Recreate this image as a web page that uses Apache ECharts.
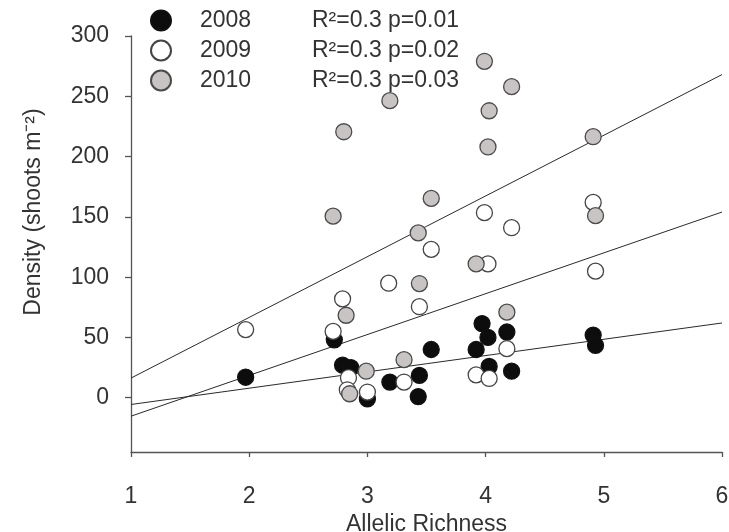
<!DOCTYPE html>
<html>
<head>
<meta charset="utf-8">
<script src="https://cdn.jsdelivr.net/npm/echarts@6/dist/echarts.min.js"></script>
<style>
html,body{margin:0;padding:0;background:#fff;}
#chart{width:729px;height:532px;}
</style>
</head>
<body>
<div id="chart"></div>
<script>
// 年份和图例右边的统计文字
var years = ['2008', '2009', '2010'];
var stats = ['R²=0.3 p=0.01', 'R²=0.3 p=0.02', 'R²=0.3 p=0.03'];

// 各年份的点 [等位基因丰富度, 密度]
var pts2008 = [[1.97,17],[2.72,48],[2.79,27],[2.86,25],[3.00,-1],[3.19,13],[3.44,18.5],[3.43,1],
  [3.54,40],[3.92,40],[3.97,61.5],[4.02,50],[4.03,26],[4.18,54.5],[4.22,22],[4.91,52],[4.93,43.5]];
var pts2009 = [[1.97,56.5],[2.71,55],[2.79,82],[2.84,16.6],[2.83,6.6],[3.00,4.7],[3.18,95],[3.31,13],
  [3.44,75.5],[3.54,123],[3.92,19],[3.99,153.5],[4.02,111],[4.03,16],[4.18,40.7],[4.22,141],[4.91,162],[4.93,105]];
var pts2010 = [[2.71,150.6],[2.80,220.6],[2.82,68.4],[2.85,3.3],[2.99,22],[3.19,246.4],[3.31,31.6],[3.43,136.7],
  [3.44,94.7],[3.54,165.3],[3.92,111],[3.99,279],[4.03,238],[4.02,208],[4.18,71],[4.22,258],[4.91,216.5],[4.93,151]];

// 回归线两端（x=1 和 x=6 处的值）
var fitX = [1, 6];
var fit2008 = [-5.6, 62];
var fit2009 = [-15.3, 154];
var fit2010 = [16.3, 268];

var yTicks = [0, 50, 100, 150, 200, 250, 300];

var fonts = '"Liberation Sans", Arial, sans-serif';
var fills = ['#0d0d0d', '#ffffff', '#c8c4c4'];
var borders = ['#111111', '#444444', '#4a4a4a'];

function linePts(fy){
	var d = [];
	for(var i=0;i<fitX.length;i++){
		d.push([fitX[i], fy[i]]);
	}
	return d;
}

var myChart = echarts.init(document.getElementById('chart'));

var allPts = [pts2008, pts2009, pts2010];
var allFits = [fit2008, fit2009, fit2010];
var series = [];
for(var i=0;i<allFits.length;i++){
	series.push({
		name: 'fit' + years[i],
		type: 'line',
		data: linePts(allFits[i]),
		symbol: 'none',
		lineStyle: {color: '#2a2a2a', width: 1},
		z: 1,
		silent: true
	});
}
for(var i=0;i<allPts.length;i++){
	series.push({
		name: years[i],
		type: 'scatter',
		data: allPts[i],
		symbol: 'circle',
		symbolSize: 16,
		itemStyle: {color: fills[i], borderColor: borders[i], borderWidth: 1.3, opacity: 1},
		z: 2 + i
	});
}

var option = {
	animation: false,
	backgroundColor: '#fff',
	grid: {left: 131, right: 7, top: 36, bottom: 80, outerBoundsMode: 'none', containLabel: false},
	legend: {
		data: years,
		orient: 'vertical',
		left: 145,
		top: 4,
		itemWidth: 20,
		itemHeight: 20,
		itemGap: 7,
		icon: 'circle',
		formatter: function(name){
			var k = years.indexOf(name);
			return '{y|' + name + '}{s|' + stats[k] + '}';
		},
		textStyle: {
			fontFamily: fonts,
			fontSize: 23,
			lineHeight: 22,
			color: '#333',
			rich: {
				y: {fontFamily: fonts, fontSize: 23, lineHeight: 22, color: '#333', width: 112, padding: [0, 0, 0, 24]},
				s: {fontFamily: fonts, fontSize: 23, lineHeight: 22, color: '#333'}
			}
		}
	},
	xAxis: {
		type: 'value',
		min: 1,
		max: 6,
		interval: 1,
		name: 'Allelic Richness',
		nameLocation: 'middle',
		nameGap: 55,
		nameTextStyle: {fontFamily: fonts, fontSize: 23, color: '#333'},
		axisLine: {onZero: false, lineStyle: {color: '#555', width: 1.3}},
		axisTick: {show: true, length: 5, lineStyle: {color: '#555', width: 1.3}},
		axisLabel: {fontFamily: fonts, fontSize: 23, color: '#333', margin: 33},
		splitLine: {show: false}
	},
	yAxis: {
		type: 'value',
		min: -45,
		max: 300,
		name: 'Density (shoots m⁻²)',
		nameLocation: 'middle',
		nameGap: 86,
		nameTextStyle: {fontFamily: fonts, fontSize: 23, color: '#333', padding: [0, 0, 0, 64]},
		axisLine: {onZero: false, lineStyle: {color: '#555', width: 1.3}},
		axisTick: {show: true, length: 6, customValues: yTicks, lineStyle: {color: '#555', width: 1.3}},
		axisLabel: {fontFamily: fonts, fontSize: 23, color: '#333', margin: 22, customValues: yTicks},
		splitLine: {show: false}
	},
	series: series
};

myChart.setOption(option);
</script>
</body>
</html>
